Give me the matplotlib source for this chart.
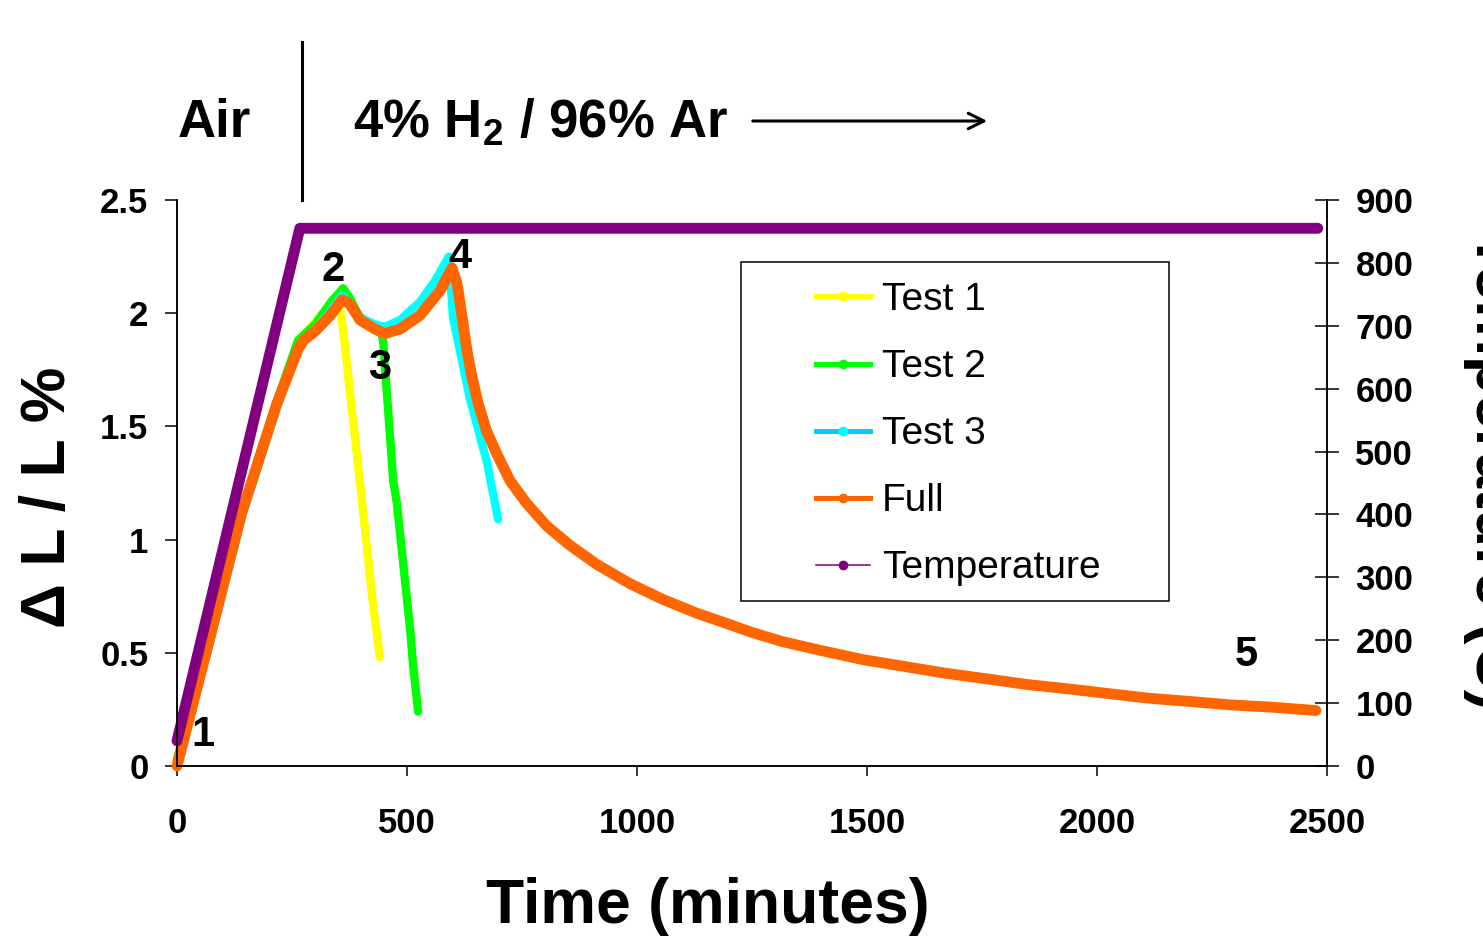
import matplotlib
matplotlib.use('Agg')
import matplotlib.pyplot as plt
from matplotlib.lines import Line2D
from matplotlib.patches import Rectangle, FancyArrowPatch

plt.rcParams['font.family'] = ['Liberation Sans', 'DejaVu Sans']
plt.rcParams['font.weight'] = 'bold'
plt.rcParams['mathtext.fontset'] = 'custom'
plt.rcParams['mathtext.rm'] = 'Liberation Sans:bold'
plt.rcParams['mathtext.bf'] = 'Liberation Sans:bold'

# data (time in minutes, dL/L in %, temperature in C)
test1_t = [0, 67, 141, 217, 263, 300, 330, 352, 361, 393, 409, 424, 441]
test1_y = [0.03, 0.54, 1.13, 1.61, 1.87, 1.96, 2.03, 2.05, 1.93, 1.34, 1.04, 0.75, 0.48]

test2_t = [0, 67, 141, 217, 263, 300, 335, 361, 375, 395, 420, 441, 448, 470, 478, 507, 513, 520, 524]
test2_y = [0.03, 0.54, 1.13, 1.61, 1.88, 1.95, 2.05, 2.11, 2.07, 1.99, 1.95, 1.94, 1.88, 1.26, 1.16, 0.60, 0.45, 0.32, 0.24]

test3_t = [0, 67, 141, 217, 263, 300, 330, 359, 376, 400, 430, 452, 485, 528, 560, 591, 600, 637, 674, 698]
test3_y = [0.02, 0.51, 1.10, 1.58, 1.85, 1.93, 2.00, 2.08, 2.04, 1.98, 1.95, 1.94, 1.97, 2.05, 2.14, 2.25, 1.98, 1.62, 1.34, 1.09]

full_t = [0, 67, 141, 217, 263, 275, 300, 333, 359, 376, 398, 430, 452, 485, 528, 572, 598,
          609, 620, 630, 641, 655, 673, 695, 724, 760, 804, 854, 913, 985, 1057, 1130, 1187,
          1250, 1315, 1400, 1491, 1580, 1670, 1760, 1848, 1940, 2024, 2110, 2202, 2290, 2378, 2476]
full_y = [0.0, 0.53, 1.12, 1.60, 1.84, 1.88, 1.92, 1.99, 2.06, 2.04, 1.97, 1.93, 1.91, 1.93, 1.99, 2.10, 2.20,
          2.13, 1.98, 1.84, 1.72, 1.60, 1.48, 1.38, 1.26, 1.16, 1.06, 0.975, 0.89, 0.805, 0.735, 0.675, 0.635,
          0.59, 0.55, 0.51, 0.47, 0.44, 0.41, 0.385, 0.36, 0.34, 0.32, 0.30, 0.285, 0.27, 0.26, 0.245]

temp_t = [0, 267, 2480]
temp_c = [40, 855, 855]

x_ticks = [0, 500, 1000, 1500, 2000, 2500]
y_ticks = [0, 0.5, 1, 1.5, 2, 2.5]
y_tick_labels = ['0', '0.5', '1', '1.5', '2', '2.5']
t_ticks = [0, 100, 200, 300, 400, 500, 600, 700, 800, 900]

# point labels
lab_text = ['1', '2', '3', '4', '5']
lab_t = [57, 339, 441, 616, 2324]
lab_y = [0.137, 2.19, 1.76, 2.25, 0.49]

W, H = 1483, 940
fig = plt.figure(figsize=(W / 100, H / 100), dpi=100)
ax = fig.add_axes([177 / W, 1 - 766 / H, 1150 / W, 566 / H])
ax2 = ax.twinx()

style = dict(solid_capstyle='round', solid_joinstyle='round', clip_on=False)
ax.plot(test1_t, test1_y, color='#FFFF00', lw=6, **style)
ax.plot(test2_t, test2_y, color='#00FF00', lw=6, **style)
ax.plot(test3_t, test3_y, color='#00FFFF', lw=6, **style)
ax.plot(full_t, full_y, color='#FF6600', lw=7.8, **style)
ax2.plot(temp_t, temp_c, color='#800080', lw=7.8, **style)

for s, t, y in zip(lab_text, lab_t, lab_y):
    ax.text(t, y, s, fontsize=30, ha='center', va='center')

ax.set_xlim(0, 2500)
ax.set_ylim(0, 2.5)
ax2.set_ylim(0, 900)
ax.set_xticks(x_ticks)
ax.set_yticks(y_ticks)
ax.set_yticklabels(y_tick_labels)
ax2.set_yticks(t_ticks)

for a in (ax, ax2):
    a.spines['top'].set_visible(False)
    for sp in a.spines.values():
        sp.set_linewidth(1.1)
ax.tick_params(axis='y', direction='out', length=8.6, width=1.1, pad=12, labelsize=25)
ax.tick_params(axis='x', direction='out', length=7.5, width=1.1, pad=22, labelsize=25)
ax2.tick_params(axis='y', direction='inout', length=17, width=1.1, pad=12, labelsize=25)

# axis titles
fig.text(708 / W, 1 - 907 / H, 'Time (minutes)', fontsize=45, ha='center', va='center')
fig.text(48 / W, 1 - 497 / H, 'Δ L / L %', fontsize=45, ha='center', va='center', rotation=90)
fig.text(1463 / W, 1 - 470 / H, 'Temperature (C)', fontsize=45, ha='left', va='center', rotation=270)

# atmosphere header
fig.text(214 / W, 1 - 137 / H, 'Air', fontsize=38, ha='center', va='baseline')
fig.text(353 / W, 1 - 137 / H, r'4% H$_\mathbf{2}$ / 96% Ar', fontsize=38, ha='left', va='baseline')
fig.add_artist(Line2D([302 / W, 302 / W], [1 - 42 / H, 1 - 200 / H], color='black', lw=2.2,
                      transform=fig.transFigure))
fig.add_artist(FancyArrowPatch((750 / W, 1 - 121 / H), (990 / W, 1 - 121 / H), arrowstyle='->',
                               mutation_scale=28, lw=2.2, color='black', transform=fig.transFigure))

# legend
handles = [
    Line2D([], [], color='#FFFF00', lw=3.6, marker='o', ms=6, mfc='#FFFF00', mec='#FFFF00'),
    Line2D([], [], color='#00FF00', lw=3.6, marker='o', ms=6, mfc='#00FF00', mec='#00FF00'),
    Line2D([], [], color='#00CCFF', lw=3.6, marker='o', ms=6, mfc='#00FFFF', mec='#00FFFF'),
    Line2D([], [], color='#FF6600', lw=3.6, marker='o', ms=6, mfc='#FF6600', mec='#FF6600'),
    Line2D([], [], color='#800080', lw=1.1, marker='o', ms=6, mfc='#800080', mec='#800080'),
]
labels = ['Test 1', 'Test 2', 'Test 3', 'Full', 'Temperature']
fig.add_artist(Rectangle((741 / W, 1 - 601 / H), 428 / W, 339 / H, fill=False, ec='black', lw=1.1,
                         transform=fig.transFigure))
ax2.legend(handles, labels, loc='upper left', bbox_to_anchor=(816 / W, 1 - 282 / H),
           bbox_transform=fig.transFigure, frameon=False, borderpad=0, borderaxespad=0,
           handlelength=1.39, handletextpad=0.3, labelspacing=0.80,
           prop={'size': 28, 'weight': 'normal'})

fig.savefig('out.png', dpi=100)
